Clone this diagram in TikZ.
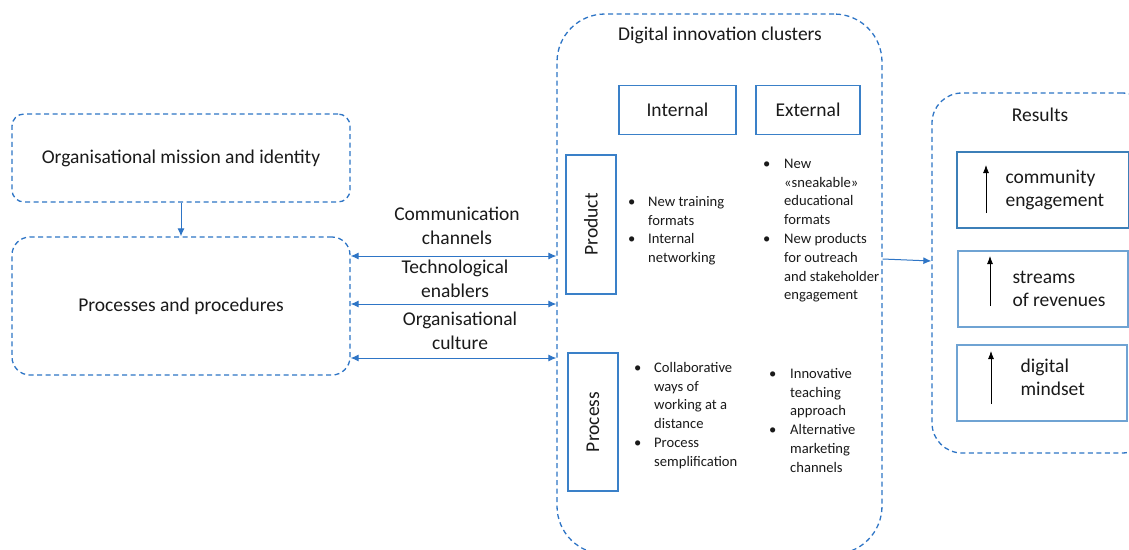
\documentclass[tikz,border=0pt]{standalone}
\usepackage{fontspec}
\setmainfont{Carlito}
\usetikzlibrary{arrows.meta}
\definecolor{dblue}{HTML}{2E75C6}
\definecolor{sblue}{HTML}{3A80C8}
\definecolor{lblue}{HTML}{6FA3D3}
\definecolor{tblue}{HTML}{3C7FB8}
\definecolor{txt}{HTML}{1A1A1A}
\tikzset{
  dbox/.style={draw=dblue, line width=1.3pt, dash pattern=on 5pt off 3.5pt, text=txt},
  sbox/.style={draw=sblue, line width=1.6pt, text=txt},
  rbox/.style={draw=lblue, line width=1.2pt, text=txt},
  conn/.style={draw=dblue, line width=1pt, -{Latex[length=8pt,width=7pt]}},
  dconn/.style={draw=dblue, line width=1pt, {Latex[length=8pt,width=7pt]}-{Latex[length=8pt,width=7pt]}},
  upar/.style={draw=black, line width=0.8pt, -{Latex[length=8pt,width=6pt]}},
  big/.style={font=\fontsize{19.5}{23}\selectfont, text=txt},
  lab/.style={font=\fontsize{19.5}{24}\selectfont, text=txt, align=center},
  mid/.style={font=\fontsize{19.5}{23}\selectfont, text=txt},
  small/.style={font=\fontsize{14.6}{18.8}\selectfont, text=txt, anchor=north west, inner sep=0pt},
}
\newcommand{\bl}{\textbullet}
\begin{document}
\begin{tikzpicture}[x=1pt,y=-1pt]
\clip (0,0) rectangle (1129,549);
\fill[white] (0,0) rectangle (1129,549);
% left boxes
\node[dbox, rounded corners=12pt, minimum width=338pt, minimum height=88pt, big] (A) at (181,158) {Organisational mission and identity};
\node[dbox, rounded corners=18pt, minimum width=338pt, minimum height=138pt, big] (B) at (181,306) {Processes and procedures};
\draw[conn] (A.south) -- (B.north);
% big cluster box
\node[dbox, rounded corners=48pt, minimum width=325pt, minimum height=540pt] (C) at (719.5,284) {};
\node[mid] (Ct) at (720,35) {Digital innovation clusters};
% link labels
\node[lab] (l1) at (457,226) {Communication\\channels};
\node[lab] (l2) at (455,279) {Technological\\enablers};
\node[lab] (l3) at (460,331) {Organisational\\culture};
\draw[dconn] (B.east |- 0,256) -- (C.west |- 0,256);
\draw[dconn] (B.east |- 0,304) -- (C.west |- 0,304);
\draw[dconn] (B.east |- 0,358) -- (C.west |- 0,358);
% headers
\node[sbox, minimum width=117pt, minimum height=49pt, big] (int) at (677.5,110) {Internal};
\node[sbox, minimum width=104pt, minimum height=49pt, big] (ext) at (808,110) {External};
\node[sbox, minimum width=50pt, minimum height=139pt] (prod) at (591,224.5) {};
\node[big, rotate=90] (prodt) at (prod.center) {Product};
\node[sbox, minimum width=50pt, minimum height=138pt] (proc) at (593,422) {};
\node[big, rotate=90] (proct) at (proc.center) {Process};
% bullets
\node[small] (pi) at (628,193) {\begin{tabular}{@{}p{20pt}@{}l@{}}\bl & New training\\ & formats\\ \bl & Internal\\ & networking\end{tabular}};
\node[small] (pe) at (763,155) {\begin{tabular}{@{}p{21pt}@{}l@{}}\bl & New\\ & «sneakable»\\ & educational\\ & formats\\ \bl & New products\\ & for outreach\\ & and stakeholder\\ & engagement\end{tabular}};
\node[small] (ri) at (634,359) {\begin{tabular}{@{}p{20pt}@{}l@{}}\bl & Collaborative\\ & ways of\\ & working at a\\ & distance\\ \bl & Process\\ & semplification\end{tabular}};
\node[small] (re) at (769,365) {\begin{tabular}{@{}p{21pt}@{}l@{}}\bl & Innovative\\ & teaching\\ & approach\\ \bl & Alternative\\ & marketing\\ & channels\end{tabular}};
% results
\node[dbox, rounded corners=30pt, minimum width=220pt, minimum height=360pt] (R) at (1042,273) {};
\draw[conn] (C.east |- 0,259) -- (R.west |- 0,261);
\node[mid] (Rt) at (1040,115) {Results};
\node[draw=tblue, line width=1.6pt, minimum width=172pt, minimum height=76pt] (r1) at (1043,190) {};
\node[rbox, minimum width=170pt, minimum height=76pt] (r2) at (1043,289) {};
\node[rbox, minimum width=170pt, minimum height=76pt] (r3) at (1042,383) {};
\node[mid, align=left, anchor=west] (r1t) at (1002,190) {community\\engagement};
\node[mid, align=left, anchor=west] (r2t) at (1009,289) {streams\\of revenues};
\node[mid, align=left, anchor=west] (r3t) at (1017,377) {digital\\mindset};
\coordinate (a1s) at (986,213); \coordinate (a1e) at (986,165);
\coordinate (a2s) at (990,306); \coordinate (a2e) at (990,256);
\coordinate (a3s) at (991,404); \coordinate (a3e) at (991,351);
\draw[upar] (a1s) -- (a1e);
\draw[upar] (a2s) -- (a2e);
\draw[upar] (a3s) -- (a3e);
\end{tikzpicture}
\end{document}
